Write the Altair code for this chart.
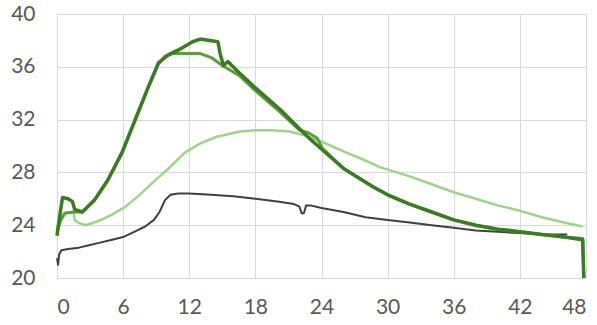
import altair as alt
import pandas as pd

gray_x = [0.0, 0.1, 0.2, 0.4, 1, 2, 3, 4, 5, 6, 7, 8, 8.8, 9.3, 9.8, 10.3, 11, 12, 14, 16, 18, 20, 21.5, 22, 22.2, 22.4, 22.6, 23, 24, 26, 28, 30, 32, 34, 36, 38, 40, 42, 44, 46.3]
gray_y = [21.5, 21.0, 21.8, 22.1, 22.2, 22.3, 22.5, 22.7, 22.9, 23.1, 23.5, 23.9, 24.4, 25.0, 25.9, 26.3, 26.4, 26.4, 26.3, 26.2, 26.0, 25.8, 25.6, 25.4, 24.9, 24.9, 25.5, 25.5, 25.3, 25.0, 24.6, 24.4, 24.2, 24.0, 23.8, 23.6, 23.5, 23.4, 23.3, 23.3]

light_x = [0, 0.3, 0.7, 1.5, 1.6, 1.9, 2.6, 3.7, 5, 6.2, 7.5, 8.9, 10, 11.6, 13, 14.5, 16.6, 18, 19.5, 21.1, 22.5, 24.1, 26, 28, 29.3, 32, 34, 36, 38, 40, 42, 44, 46, 47.7]
light_y = [23.8, 24.5, 24.9, 25.0, 24.4, 24.2, 24.0, 24.3, 24.8, 25.4, 26.3, 27.4, 28.2, 29.5, 30.2, 30.7, 31.1, 31.2, 31.2, 31.1, 30.8, 30.3, 29.6, 28.9, 28.4, 27.7, 27.1, 26.5, 26.0, 25.5, 25.1, 24.6, 24.2, 23.9]

mid_x = [0, 0.3, 0.7, 1.5, 2.3, 3.4, 4.6, 5.9, 7.1, 8.3, 9.2, 9.8, 10.5, 13, 14, 15, 16.6, 18, 20.2, 22, 22.8, 23.6, 24.1, 26, 28.7, 30, 32, 34, 36, 38, 40, 42, 44, 46, 47.7, 47.8]
mid_y = [23.5, 24.3, 24.9, 25.0, 25.0, 25.9, 27.4, 29.5, 32.0, 34.5, 36.2, 36.8, 37.0, 37.0, 36.7, 36.1, 35.3, 34.2, 32.6, 31.2, 31.0, 30.6, 29.8, 28.3, 26.9, 26.3, 25.6, 25.0, 24.4, 24.0, 23.7, 23.5, 23.3, 23.1, 23.0, 20.0]

dark_x = [0, 0.3, 0.5, 1.0, 1.4, 1.6, 2.3, 3.4, 4.6, 5.9, 7.1, 8.3, 9.2, 10.1, 11.3, 12.3, 13, 14.6, 14.8, 15.1, 15.5, 16.6, 18, 20.2, 22, 23, 24.1, 26, 28.7, 30, 32, 34, 36, 38, 40, 42, 44, 46, 47.7, 47.8]
dark_y = [23.2, 25.0, 26.1, 26.0, 25.8, 25.2, 25.0, 25.9, 27.4, 29.5, 32.0, 34.5, 36.3, 36.9, 37.4, 37.9, 38.1, 37.9, 37.0, 36.1, 36.4, 35.5, 34.4, 32.8, 31.3, 30.5, 29.7, 28.3, 26.9, 26.3, 25.6, 25.0, 24.4, 24.0, 23.7, 23.5, 23.3, 23.1, 22.9, 20.0]

series = ["gray", "light", "mid", "dark"]
colors = ["#404040", "#9fd38a", "#5c9e3a", "#3d7a24"]
widths = [2, 3.5, 3.5, 3.5]

rows = []
for name, xs, ys in [("gray", gray_x, gray_y), ("light", light_x, light_y),
                     ("mid", mid_x, mid_y), ("dark", dark_x, dark_y)]:
    for i, (a, b) in enumerate(zip(xs, ys)):
        rows.append({"s": name, "t": a, "v": b, "i": i})
df = pd.DataFrame(rows)

chart = alt.Chart(df).mark_line(strokeJoin="round").encode(
    x=alt.X("t:Q", scale=alt.Scale(domain=[0, 48], nice=False),
            axis=alt.Axis(values=list(range(0, 49, 6)), title=None)),
    y=alt.Y("v:Q", scale=alt.Scale(domain=[20, 40], nice=False),
            axis=alt.Axis(values=list(range(20, 41, 4)), title=None)),
    color=alt.Color("s:N", scale=alt.Scale(domain=series, range=colors), legend=None),
    strokeWidth=alt.StrokeWidth("s:N", scale=alt.Scale(domain=series, range=widths), legend=None),
    order="i:Q",
).properties(
    width=529, height=264,
    padding={"left": 57, "top": 14, "right": 11, "bottom": 47},
    autosize=alt.AutoSizeParams(type="none"),
).configure_axis(
    domain=False, ticks=False, grid=True, gridColor="#d9d9d9", gridWidth=1,
    labelFont="Lato", labelFontSize=21, labelColor="#595959",
).configure_axisX(labelPadding=18).configure_axisY(labelPadding=22).configure_view(
    stroke=None
)

chart.save("out.html", embed_options={"renderer": "svg", "actions": False})
